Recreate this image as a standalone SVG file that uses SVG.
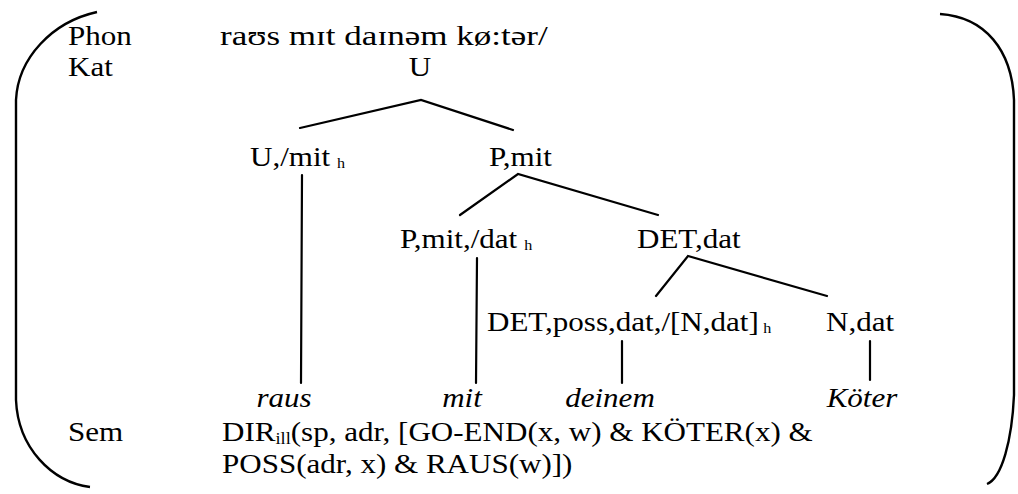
<svg xmlns="http://www.w3.org/2000/svg" width="1018" height="494" viewBox="0 0 1018 494">
<style>
text{font-family:'Liberation Serif','Times New Roman',Times,serif;font-size:27px;fill:#000}
.it{font-style:italic}
.sub{font-size:14px}
.sub2{font-size:16px}
.ln{stroke:#000;stroke-width:2.2;fill:none;stroke-linecap:round}
.br{stroke:#000;stroke-width:2.4;fill:none}
</style>
<rect width="1018" height="494" fill="#fff"/>
<g id="brackets">
<path class="br" d="M97,12 C52,22 18,58 16,100 L16,400 C18,448 52,482 90,487"/>
<path class="br" d="M940,14 C985,17 1012,50 1014,100 L1014,395 C1012,440 1002,478 987,484"/>
</g>
<g id="labels">
<text transform="translate(68,45) scale(1.15,1)">Phon</text>
<text transform="translate(68,76) scale(1.15,1)">Kat</text>
<text transform="translate(68,441) scale(1.15,1)">Sem</text>
</g>
<g id="phon"><text transform="translate(220,45) scale(1.15,1)" textLength="285" lengthAdjust="spacingAndGlyphs">raʊs mɪt daɪnəm kø:tər/</text></g>
<g id="n-U"><text transform="translate(420,76) scale(1.15,1)" text-anchor="middle">U</text></g>
<g id="n-Umit"><text transform="translate(250,166) scale(1.15,1)">U,/mit<tspan class="sub" dx="6" dy="2">h</tspan></text></g>
<g id="n-Pmit"><text transform="translate(489,166) scale(1.15,1)">P,mit</text></g>
<g id="n-Pmitdat"><text transform="translate(400,248) scale(1.15,1)">P,mit,/dat<tspan class="sub" dx="6" dy="2">h</tspan></text></g>
<g id="n-DETdat"><text transform="translate(637,248) scale(1.15,1)">DET,dat</text></g>
<g id="n-DETposs"><text transform="translate(487,331) scale(1.15,1)">DET,poss,dat,/[N,dat]<tspan class="sub" dx="4" dy="2">h</tspan></text></g>
<g id="n-Ndat"><text transform="translate(826,331) scale(1.15,1)">N,dat</text></g>
<g id="w-raus"><text class="it" transform="translate(284,407) scale(1.15,1)" text-anchor="middle">raus</text></g>
<g id="w-mit"><text class="it" transform="translate(462,407) scale(1.15,1)" text-anchor="middle">mit</text></g>
<g id="w-deinem"><text class="it" transform="translate(610,407) scale(1.15,1)" text-anchor="middle">deinem</text></g>
<g id="w-koeter"><text class="it" transform="translate(862,407) scale(1.15,1)" text-anchor="middle">Köter</text></g>
<g id="sem">
<text transform="translate(222,441) scale(1.15,1)">DIR<tspan class="sub2" dy="3">ill</tspan><tspan dy="-3">(sp, adr, [GO-END(x, w) &amp; KÖTER(x) &amp;</tspan></text>
<text transform="translate(222,473) scale(1.15,1)">POSS(adr, x) &amp; RAUS(w)])</text>
</g>
<g id="connectors">
<path class="ln" d="M300,128 L421,100 L513,130"/>
<line class="ln" x1="302" y1="175" x2="301" y2="383"/>
<path class="ln" d="M460,215 L518,174 L658,215"/>
<line class="ln" x1="477" y1="258" x2="476" y2="383"/>
<path class="ln" d="M656,296 L688,256 L827,296"/>
<line class="ln" x1="622" y1="341" x2="622" y2="383"/>
<line class="ln" x1="870" y1="341" x2="870" y2="380"/>
</g>
</svg>
